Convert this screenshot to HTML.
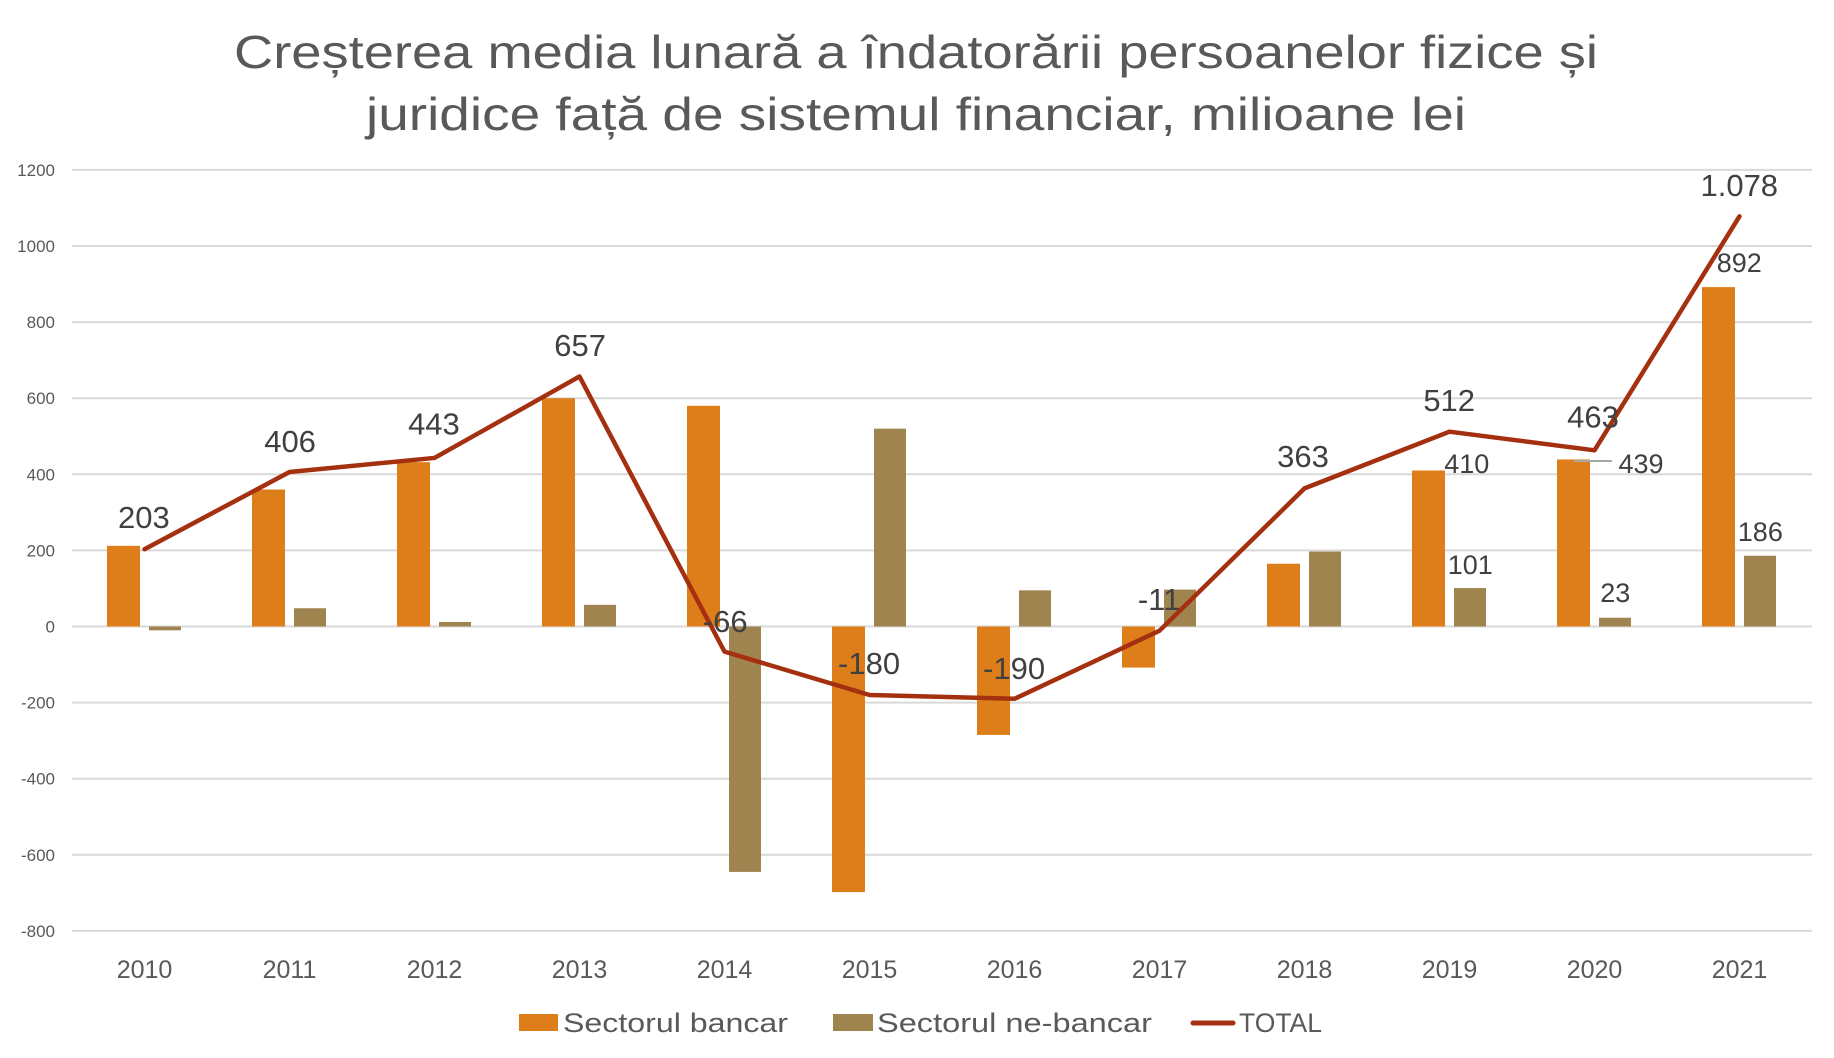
<!DOCTYPE html>
<html><head><meta charset="utf-8"><style>
html,body{margin:0;padding:0;background:#fff;}
svg{display:block;font-family:"Liberation Sans","DejaVu Sans",sans-serif;}
</style></head><body>
<svg id="s" width="1834" height="1058" xmlns="http://www.w3.org/2000/svg">
<text x="916" y="68" font-size="46" fill="#595959" text-anchor="middle" textLength="1364" lengthAdjust="spacingAndGlyphs">Creșterea media lunară a îndatorării persoanelor fizice și</text>
<text x="916" y="130" font-size="46" fill="#595959" text-anchor="middle" textLength="1100" lengthAdjust="spacingAndGlyphs">juridice față de sistemul financiar, milioane lei</text>
<g id="g"></g>
<rect x="519" y="1014" width="39" height="17" fill="#DD7E1A"/>
<text x="563" y="1032" font-size="27" fill="#595959" textLength="225" lengthAdjust="spacingAndGlyphs">Sectorul bancar</text>
<rect x="833" y="1014" width="40" height="17" fill="#A08450"/>
<text x="877" y="1032" font-size="27" fill="#595959" textLength="275" lengthAdjust="spacingAndGlyphs">Sectorul ne-bancar</text>
<line x1="1193" y1="1023" x2="1233" y2="1023" stroke="#A5300F" stroke-width="5" stroke-linecap="round"/>
<text x="1239" y="1032" font-size="27" fill="#595959" textLength="83" lengthAdjust="spacingAndGlyphs">TOTAL</text>
</svg>
<script>
var g=document.getElementById('g'),NS='http://www.w3.org/2000/svg';
function el(t,a,txt){var e=document.createElementNS(NS,t);for(var k in a)e.setAttribute(k,a[k]);if(txt!==undefined)e.textContent=txt;g.appendChild(e);return e;}
var y0=626.5,sc=76.1/200;function Y(v){return y0-v*sc;}
for(var v=-800;v<=1200;v+=200){el('line',{x1:72,x2:1812,y1:Y(v),y2:Y(v),stroke:'#d9d9d9','stroke-width':2});
el('text',{x:55,y:Y(v)+6,'font-size':17,fill:'#595959','text-anchor':'end'},String(v));}
var o=[212,360,432,600,580,-698,-285,-108,165,410,439,892],b=[-10,48,12,57,-645,520,95,97,197,101,23,186],t=[203,406,443,657,-66,-180,-190,-11,363,512,463,1078];
var pts=[];
for(var i=0;i<12;i++){var c=72+72.5+145*i;
el('rect',{x:c-37.5,y:Math.min(Y(0),Y(o[i])),width:33,height:Math.abs(o[i]*sc),fill:'#DD7E1A'});
el('rect',{x:c+4.5,y:Math.min(Y(0),Y(b[i])),width:32,height:Math.abs(b[i]*sc),fill:'#A08450'});
el('text',{x:c,y:978,'font-size':25,fill:'#595959','text-anchor':'middle'},String(2010+i));
pts.push(c+','+Y(t[i]));}
el('line',{x1:1574,y1:461,x2:1612,y2:461,stroke:'#a6a6a6','stroke-width':2});
el('polyline',{points:pts.join(' '),fill:'none',stroke:'#A5300F','stroke-width':4.5,'stroke-linejoin':'round','stroke-linecap':'round'});
var L=[["203",123,442,1],["406",248,377,1],["443",371,362,1],["657",496,295,1],["-66",620,531,1],["-180",743,567,1],["-190",867,571,1],["-11",991,512,1],["363",1114,390,1],["512",1239,342,1],["463",1362,356,1],["1.078",1487,158,1],["892",1487,224,0],["410",1254,396,0],["439",1403,396,0],["101",1257,482,0],["23",1381,506,0],["186",1505,454,0]];
var f=1834/1568;
L.forEach(function(l){el('text',{x:l[1]*f,y:l[2]*f+(l[3]?11:10),'font-size':l[3]?31:27,fill:'#404040','text-anchor':'middle'},l[0]);});
</script>
</body></html>
